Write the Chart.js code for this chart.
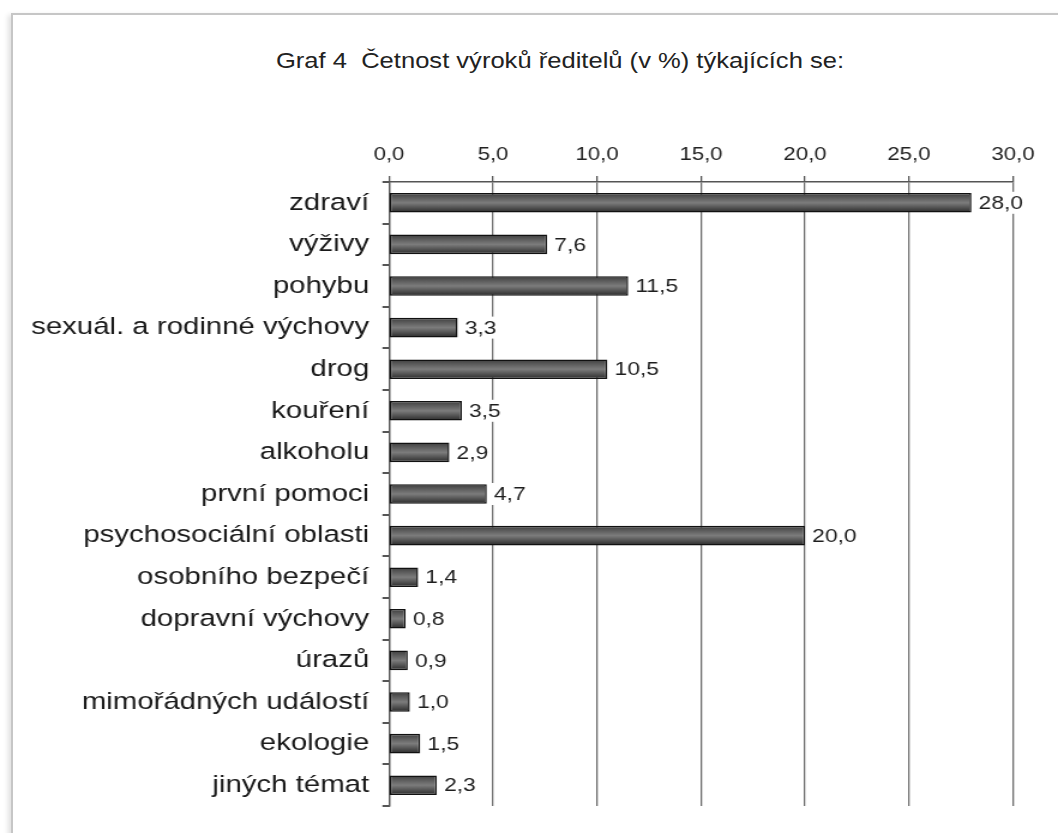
<!DOCTYPE html>
<html>
<head>
<meta charset="utf-8">
<script src="https://cdn.jsdelivr.net/npm/chart.js@4/dist/chart.umd.min.js"></script>
<style>
  html, body { margin: 0; padding: 0; background: #ffffff; }
  body { width: 1058px; height: 833px; position: relative; overflow: hidden; }
  #frame { position: absolute; left: 11px; top: 13px; width: 1100px; height: 900px;
           border: 2px solid #c6c6c6; box-shadow: -3px 2px 5px rgba(0,0,0,0.12); background: #fff; }
  #title { position: absolute; left: 260px; width: 600px; top: 49px; text-align: center;
           font-family: 'Liberation Sans', Arial, sans-serif; font-size: 21.3px; color: #222;
           transform: scaleX(1.2); transform-origin: 300px 0; white-space: pre; }
  #c { position: absolute; left: 0; top: 0; width: 1058px; height: 833px; }
</style>
</head>
<body>
<div id="frame"></div>
<div id="title"></div>
<canvas id="c" width="882" height="833" style="width:1058px;height:833px"></canvas>
<script>
const titleText = 'Graf 4  Četnost výroků ředitelů (v %) týkajících se:';
const categories = ['zdraví', 'výživy', 'pohybu', 'sexuál. a rodinné výchovy', 'drog', 'kouření',
  'alkoholu', 'první pomoci', 'psychosociální oblasti', 'osobního bezpečí', 'dopravní výchovy',
  'úrazů', 'mimořádných událostí', 'ekologie', 'jiných témat'];
const values = [28.0, 7.6, 11.5, 3.3, 10.5, 3.5, 2.9, 4.7, 20.0, 1.4, 0.8, 0.9, 1.0, 1.5, 2.3];
const xTickLabels = ['0,0', '5,0', '10,0', '15,0', '20,0', '25,0', '30,0'];

document.getElementById('title').textContent = titleText;

const FONT = "'Liberation Sans', Arial, sans-serif";
const BAR_PCT = 0.47;

function fmt(v) { return v.toFixed(1).replace('.', ','); }

const labelPlugin = {
  id: 'valueLabels',
  afterDatasetsDraw(chart) {
    const c = chart.ctx;
    const meta = chart.getDatasetMeta(0);
    c.save();
    c.font = '19px ' + FONT;
    c.textBaseline = 'middle';
    c.textAlign = 'left';
    meta.data.forEach((bar, i) => {
      const txt = fmt(values[i]);
      const x = bar.x + 6;
      const w = c.measureText(txt).width;
      c.fillStyle = '#ffffff';
      c.fillRect(x - 2, bar.y - 11, w + 4, 22);
      c.fillStyle = '#1e1e1e';
      c.fillText(txt, x, bar.y + 1);
    });
    c.restore();
  }
};

function barFill(context) {
  const chart = context.chart;
  const area = chart.chartArea;
  if (!area || !chart.scales.y) return '#555555';
  const ys = chart.scales.y;
  const yc = ys.getPixelForValue(context.dataIndex);
  const h = ys.height / categories.length * BAR_PCT;
  const g = chart.ctx.createLinearGradient(0, yc - h / 2, 0, yc + h / 2);
  g.addColorStop(0, '#3c3c3c');
  g.addColorStop(0.2, '#575757');
  g.addColorStop(0.5, '#7c7c7c');
  g.addColorStop(0.8, '#4a4a4a');
  g.addColorStop(1, '#2a2a2a');
  return g;
}

new Chart(document.getElementById('c'), {
  type: 'bar',
  data: {
    labels: categories,
    datasets: [{
      data: values,
      backgroundColor: barFill,
      borderColor: '#111111',
      borderWidth: 1.5,
      borderSkipped: false,
      categoryPercentage: 1.0,
      barPercentage: BAR_PCT
    }]
  },
  options: {
    indexAxis: 'y',
    responsive: false,
    animation: false,
    devicePixelRatio: 1,
    layout: { padding: { left: 0, right: 37.5, top: 0, bottom: 27 } },
    plugins: {
      legend: { display: false },
      tooltip: { enabled: false },
      title: { display: false }
    },
    scales: {
      x: {
        position: 'top',
        min: 0, max: 30,
        afterFit(scale) { scale.height = 182; },
        ticks: {
          stepSize: 5,
          padding: 10,
          color: '#222222',
          font: { family: FONT, size: 18.5 },
          callback: (v, i) => xTickLabels[i]
        },
        grid: { color: '#6e6e6e', lineWidth: 1.3, tickLength: 6, tickColor: '#555555' },
        border: { display: true, color: '#555555', width: 1.5 }
      },
      y: {
        afterFit(scale) { scale.width = 324.3; },
        ticks: {
          padding: 11,
          color: '#1a1a1a',
          font: { family: FONT, size: 24.5 }
        },
        grid: {
          offset: true,
          drawOnChartArea: true,
          color: (ctx) => (ctx.index === categories.length ? '#888888' : 'rgba(0,0,0,0)'),
          lineWidth: 2,
          tickLength: 5.5,
          tickColor: '#555555'
        },
        border: { display: true, color: '#555555', width: 1.3 }
      }
    }
  },
  plugins: [labelPlugin]
});
</script>
</body>
</html>
